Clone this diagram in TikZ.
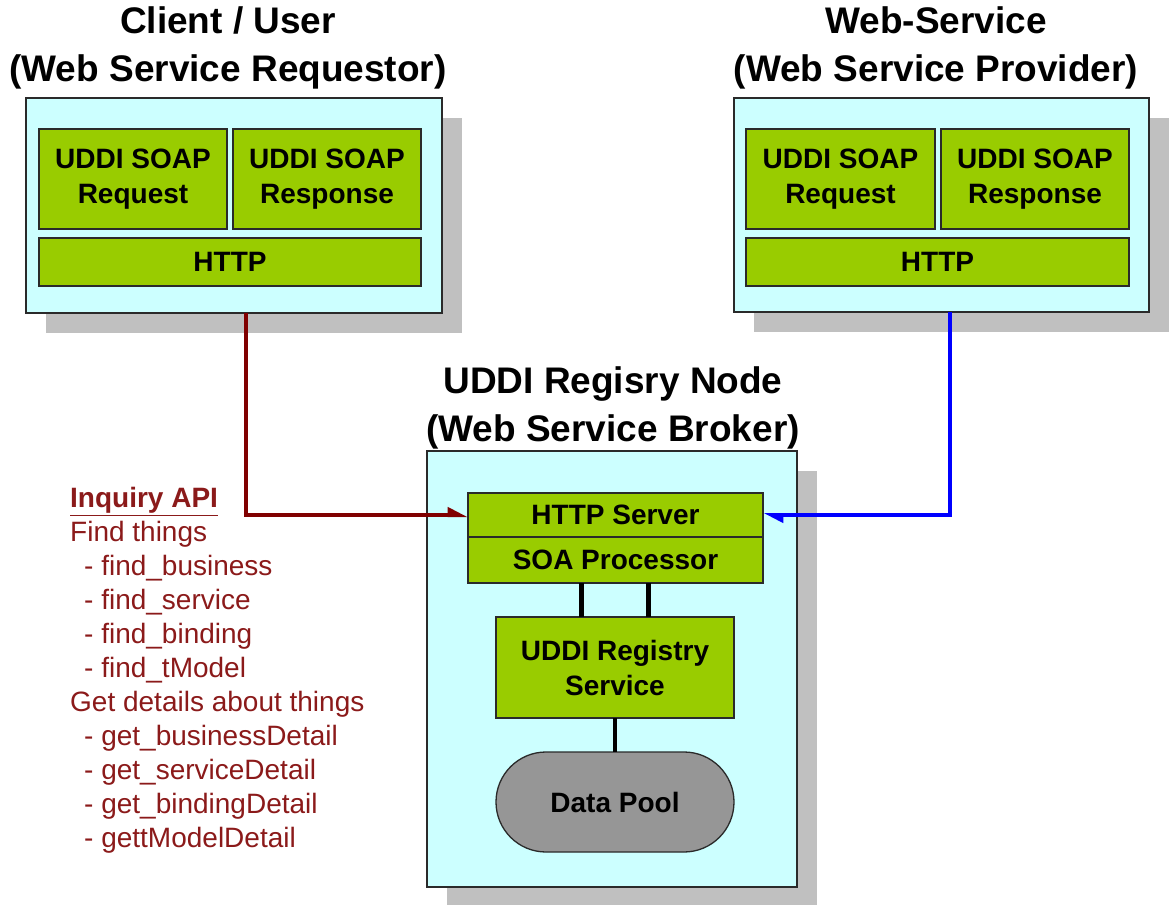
\documentclass[tikz,border=0pt]{standalone}
\usepackage{fontspec}
\setmainfont{Liberation Sans}
\usetikzlibrary{arrows.meta,calc,shadows}

\definecolor{panelcyan}{HTML}{CCFFFF}
\definecolor{layergreen}{HTML}{99CC00}
\definecolor{shadegray}{HTML}{C0C0C0}
\definecolor{poolgray}{HTML}{969696}
\definecolor{edgegray}{HTML}{2A2A2A}
\definecolor{reqred}{HTML}{800000}
\definecolor{apired}{HTML}{8B1A1A}
\definecolor{respblue}{HTML}{0000FF}

\begin{document}
\begin{tikzpicture}[x=1pt,y=-1pt,
  panelbox/.style={draw=edgegray, line width=1.5pt, fill=panelcyan,
    anchor=north west, inner sep=0pt, outer sep=0pt,
    drop shadow={shadow xshift=20pt, shadow yshift=-20pt, fill=shadegray, opacity=1}},
  layerbox/.style={draw=edgegray, line width=1.3pt, fill=layergreen,
    anchor=north west, inner sep=0pt, outer sep=0pt, align=center,
    font=\fontsize{28}{35}\selectfont\bfseries},
  poolbox/.style={layerbox, fill=poolgray, rounded corners=50pt},
  titletext/.style={anchor=north, inner sep=0pt, align=center,
    font=\fontsize{37}{48}\selectfont\bfseries},
  apilist/.style={anchor=north west, inner sep=0pt, align=left, text=apired,
    font=\fontsize{28}{34}\selectfont},
  reqline/.style={draw=reqred, line width=4pt,
    -{Triangle[left, length=16pt, width=15pt]}},
  respline/.style={draw=respblue, line width=4pt,
    -{Triangle[left, length=16pt, width=15pt]}},
  link/.style={draw=black, line width=4.5pt}
]
\useasboundingbox (0,0) rectangle (1171,905);

% titles
\node[titletext] (tcl) at (228,6) {Client / User\\(Web Service Requestor)};
\node[titletext] (tpr) at (936,6) {Web-Service\\(Web Service Provider)};
\node[titletext] (tbr) at (613,366) {UDDI Regisry Node\\(Web Service Broker)};

% requestor side
\node[panelbox, minimum width=416pt, minimum height=215pt] (cl) at (26,98) {};
\node[layerbox, minimum width=188pt, minimum height=100pt] (clreq) at (39,129) {UDDI SOAP\\Request};
\node[layerbox, minimum width=188pt, minimum height=100pt] (clres) at (233,129) {UDDI SOAP\\Response};
\node[layerbox, minimum width=382pt, minimum height=48pt] (clhttp) at (39,238) {HTTP};

% provider side
\node[panelbox, minimum width=415pt, minimum height=214pt] (pr) at (734,98) {};
\node[layerbox, minimum width=189pt, minimum height=100pt] (prreq) at (746,129) {UDDI SOAP\\Request};
\node[layerbox, minimum width=188pt, minimum height=100pt] (prres) at (941,129) {UDDI SOAP\\Response};
\node[layerbox, minimum width=383pt, minimum height=48pt] (prhttp) at (746,238) {HTTP};

% broker (registry node)
\node[panelbox, minimum width=370pt, minimum height=436pt] (br) at (427,451) {};
\node[layerbox, minimum width=295pt, minimum height=44pt] (hs) at (468,493) {HTTP Server};
\node[layerbox, minimum width=295pt, minimum height=46pt] (soa) at (468,537) {SOA Processor};
\node[layerbox, minimum width=238pt, minimum height=101pt] (reg) at (496,617) {UDDI Registry\\Service};
\node[poolbox, minimum width=238pt, minimum height=100pt] (pool) at (496,752) {Data Pool};

% internal links
\draw[link] ([xshift=-34pt]soa.south) -- ([xshift=-34pt]soa.south |- reg.north);
\draw[link] ([xshift=33pt]soa.south) -- ([xshift=33pt]soa.south |- reg.north);
\draw[link] (reg.south) -- (pool.north);

% request / response paths
\coordinate (clout) at ($(cl.south west)+(220,0)$);
\coordinate (prout) at ($(pr.south west)+(216,0)$);
\draw[reqline] (clout) |- (hs.west);
\draw[respline] (prout) |- (hs.east);

% inquiry API listing
\node[apilist] (api) at (70,487) {\underline{\textbf{Inquiry API}}\\
Find things\\
\hspace*{14pt}- find\_business\\
\hspace*{14pt}- find\_service\\
\hspace*{14pt}- find\_binding\\
\hspace*{14pt}- find\_tModel\\
Get details about things\\
\hspace*{14pt}- get\_businessDetail\\
\hspace*{14pt}- get\_serviceDetail\\
\hspace*{14pt}- get\_bindingDetail\\
\hspace*{14pt}- gettModelDetail};
\end{tikzpicture}
\end{document}
